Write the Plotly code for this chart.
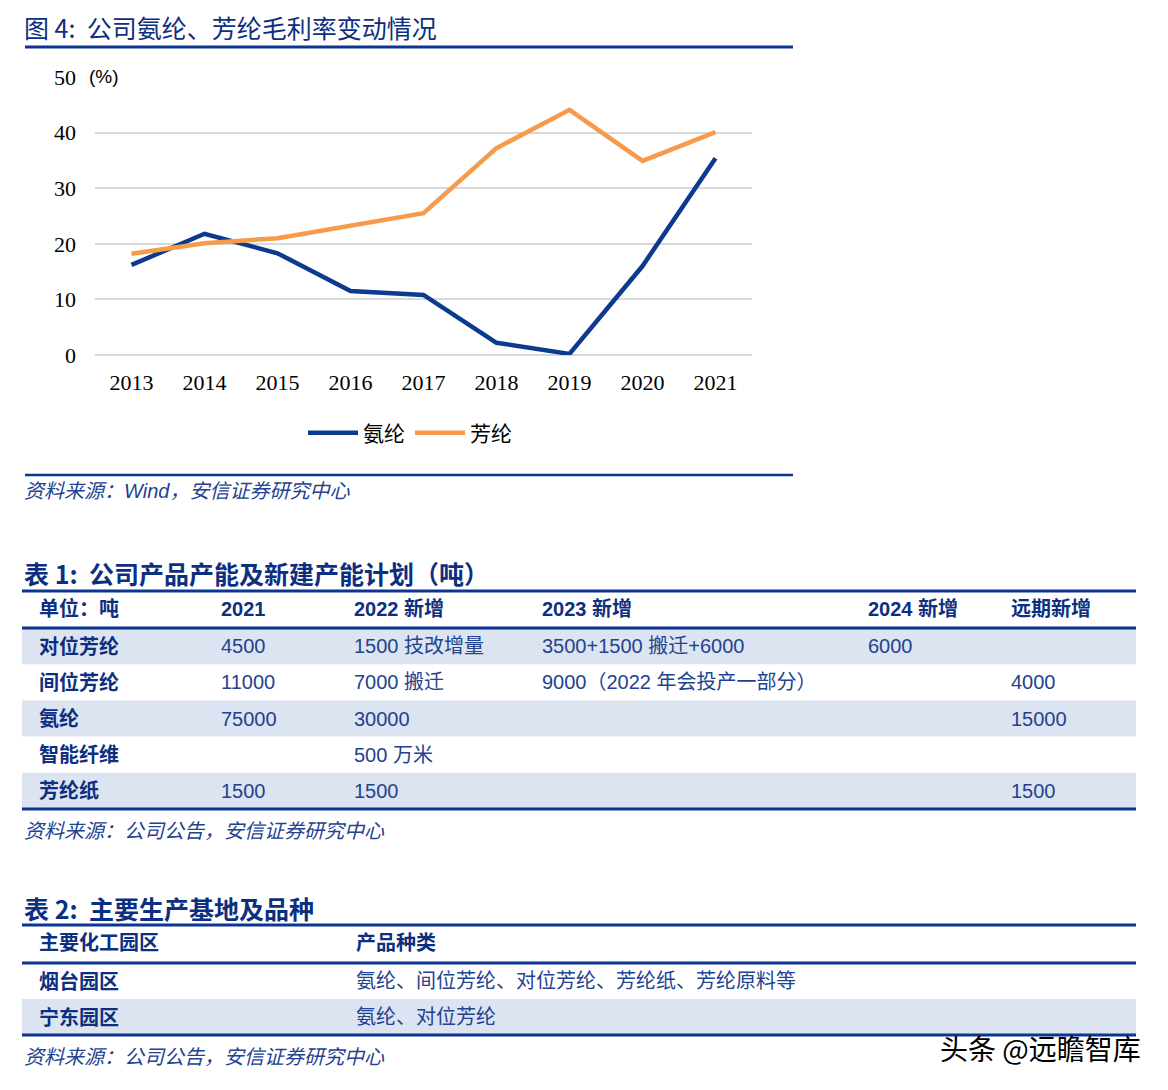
import plotly.graph_objects as go

W, H = 1168, 1090

# ---------------- data ----------------
years = ["2013", "2014", "2015", "2016", "2017", "2018", "2019", "2020", "2021"]
spandex = [16.2, 21.8, 18.3, 11.5, 10.8, 2.2, 0.2, 16.0, 35.4]     # 氨纶
aramid = [18.2, 20.1, 21.0, 23.2, 25.5, 37.2, 44.1, 34.9, 40.1]     # 芳纶
y_ticks = [0, 10, 20, 30, 40, 50]

t1_header = ["单位：吨", "2021", "2022 新增", "2023 新增", "2024 新增", "远期新增"]
t1_item = ["对位芳纶", "间位芳纶", "氨纶", "智能纤维", "芳纶纸"]
t1_2021 = ["4500", "11000", "75000", "", "1500"]
t1_2022 = ["1500 技改增量", "7000 搬迁", "30000", "500 万米", "1500"]
t1_2023 = ["3500+1500 搬迁+6000", "9000（2022 年会投产一部分）", "", "", ""]
t1_2024 = ["6000", "", "", "", ""]
t1_future = ["", "4000", "15000", "", "1500"]

t2_header = ["主要化工园区", "产品种类"]
t2_park = ["烟台园区", "宁东园区"]
t2_products = ["氨纶、间位芳纶、对位芳纶、芳纶纸、芳纶原料等", "氨纶、对位芳纶"]

# ---------------- style ----------------
NAVY = "#0b3a8e"
ORANGE = "#f79a4b"
DARK = "#0d2f80"
BODY = "#23428f"
SHADE = "#dbe4f0"
RULE = "#0b3591"
CJK = "Noto Sans CJK SC"
SANS = "Liberation Sans, Noto Sans CJK SC"
SERIF = "Liberation Serif"


def py(y):
    return (H - y) / H


def px(x):
    return x / W


fig = go.Figure()

fig.add_trace(go.Scatter(x=years, y=spandex, name="氨纶", mode="lines",
                         line=dict(color=NAVY, width=4.5)))
fig.add_trace(go.Scatter(x=years, y=aramid, name="芳纶", mode="lines",
                         line=dict(color=ORANGE, width=4.5)))

shapes = []
annotations = []


def rule(y, x0, x1, w):
    shapes.append(dict(type="line", xref="paper", yref="paper", x0=px(x0), x1=px(x1),
                       y0=py(y), y1=py(y), line=dict(color=RULE, width=w)))


def text(t, x, y, size, color, family=SANS, xanchor="left"):
    x = x - 3 if xanchor == "left" else x + 3   # compensate annotation padding
    annotations.append(dict(text=t, x=px(x), y=py(y), xref="paper", yref="paper",
                            xanchor=xanchor, yanchor="middle", showarrow=False,
                            font=dict(family=family, size=size, color=color)))


def draw_table(top, header_h, row_h, col_x, header, columns, shaded_rows, x0=22, x1=1136):
    """Render a table: header row, body rows, row shading and blue rules."""
    n_rows = len(columns[0])
    for cx, h in zip(col_x, header):
        text("<b>%s</b>" % h, cx, top + header_h / 2 - 1, 20, DARK)
    body_top = top + header_h
    for r in range(n_rows):
        r_top = body_top + r * row_h
        if r in shaded_rows:
            shapes.append(dict(type="rect", xref="paper", yref="paper", layer="below",
                               x0=px(x0), x1=px(x1), y0=py(r_top + row_h), y1=py(r_top),
                               fillcolor=SHADE, line=dict(width=0)))
        for c, (cx, col) in enumerate(zip(col_x, columns)):
            v = col[r]
            if not v:
                continue
            if c == 0:
                text("<b>%s</b>" % v, cx, r_top + row_h / 2, 20, DARK)
            else:
                text(v, cx, r_top + row_h / 2, 20, BODY)
    bottom = body_top + n_rows * row_h
    rule(top, x0, x1, 3)
    rule(body_top, x0, x1, 3)
    rule(bottom, x0, x1, 3)


# ---------------- table 1 ----------------
draw_table(591, 37, 36.2, [40, 222, 355, 543, 869, 1012], t1_header,
           [t1_item, t1_2021, t1_2022, t1_2023, t1_2024, t1_future], {0, 2, 4})

# ---------------- table 2 ----------------
draw_table(925, 38, 36, [40, 357], t2_header, [t2_park, t2_products], {1})

# ---------------- chart frame & captions ----------------
rule(47, 25, 793, 3)
rule(475, 25, 793, 2.5)

text("图 4:  公司氨纶、芳纶毛利率变动情况", 25, 27, 25, DARK, CJK)
text("(%)", 90, 76, 19, "black", "Liberation Sans")
text("<i>资料来源：Wind，安信证券研究中心</i>", 25, 491, 20, BODY)
text("<b>表 1:  公司产品产能及新建产能计划（吨）</b>", 25, 573, 25, DARK, CJK)
text("<i>资料来源：公司公告，安信证券研究中心</i>", 25, 831, 20, BODY)
text("<b>表 2:  主要生产基地及品种</b>", 25, 908, 25, DARK, CJK)
text("<i>资料来源：公司公告，安信证券研究中心</i>", 25, 1057, 20, BODY)
text("头条 @远瞻智库", 1140, 1048, 28, "black", CJK, xanchor="right")

fig.update_layout(
    width=W, height=H,
    margin=dict(l=0, r=0, t=0, b=0, autoexpand=False),
    paper_bgcolor="white", plot_bgcolor="white",
    showlegend=True,
    legend=dict(orientation="h", x=px(410), y=py(433), xanchor="center", yanchor="middle",
                font=dict(family=CJK, size=21, color="black"), itemwidth=50,
                bgcolor="rgba(0,0,0,0)"),
    xaxis=dict(domain=[px(95), px(752)], type="category", range=[-0.5, 8.5],
               showgrid=False, showline=False, zeroline=False, ticks="",
               tickfont=dict(family=SERIF, size=22, color="black"),
               ticklabelstandoff=12),
    yaxis=dict(domain=[py(355), py(77)], range=[0, 50], tickvals=y_ticks,
               showgrid=True, gridcolor="#d9d9d9", gridwidth=2,
               zeroline=True, zerolinecolor="#d9d9d9", zerolinewidth=2,
               showline=False, ticks="",
               tickfont=dict(family=SERIF, size=22, color="black"),
               ticklabelstandoff=18),
    shapes=shapes,
    annotations=annotations,
)

fig.write_html("out.html")
